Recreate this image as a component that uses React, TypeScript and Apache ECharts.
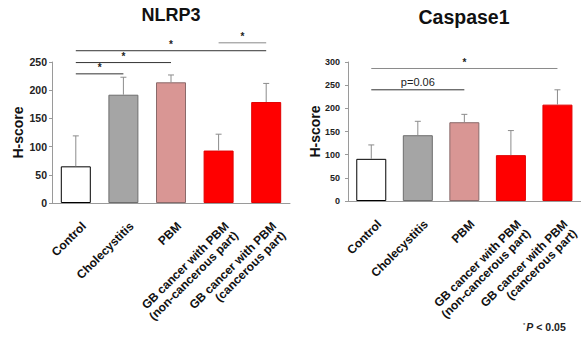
import React, { useEffect, useRef } from "react";
import * as echarts from "echarts";

const categories = [
  "Control",
  "Cholecystitis",
  "PBM",
  "GB cancer with PBM\n(non-cancerous part)",
  "GB cancer with PBM\n(cancerous part)",
];
const nlrp3Mean = [65, 192, 214, 93, 179];
const nlrp3Upper = [119, 223, 227, 122, 212];
const casp1Mean = [91, 142, 170, 99, 208];
const casp1Upper = [121, 172, 187, 152, 240];
const nlrp3Ticks = [0, 50, 100, 150, 200, 250];
const casp1Ticks = [0, 50, 100, 150, 200, 250, 300];
const nlrp3Sig = [
  { from: 0, to: 1, y: 229, label: "*", dark: true },
  { from: 0, to: 2, y: 249, label: "*", dark: true },
  { from: 0, to: 4, y: 270, label: "*", dark: true },
  { from: 3, to: 4, y: 284, label: "*", dark: false },
];
const casp1Sig = [
  { from: 0, to: 4, y: 286, label: "*", dark: false },
  { from: 0, to: 2, y: 240, label: "p=0.06", dark: true },
];
const titles = ["NLRP3", "Caspase1"];

const FONT = "'Liberation Sans', Arial, sans-serif";
const barColors = ["#ffffff", "#a5a5a5", "#d99694", "#ff0000", "#ff0000"];
const barBorders = ["#000000", "#6e6e6e", "#8a6a6a", "#e00000", "#e00000"];

export default function App() {
  const ref = useRef<HTMLDivElement>(null);
  useEffect(() => {
    const chart = echarts.init(ref.current!, null, { renderer: "svg" });

    const xAxisBase = (gridIndex: number) => ({
      type: "category",
      gridIndex,
      data: categories,
      axisLine: { lineStyle: { color: "#9a9a9a", width: 1 } },
      axisTick: { show: false },
      axisLabel: {
        rotate: 45,
        interval: 0,
        margin: 13,
        align: "right",
        verticalAlign: "top",
        padding: [5, 0, 0, 0],
        fontFamily: FONT,
        fontWeight: "bold",
        fontSize: 12,
        lineHeight: 13,
        color: "#111",
      },
    });
    const yAxisBase = (gridIndex: number, ticks: number[], fs: number, margin: number, gap: number) => ({
      type: "value",
      gridIndex,
      min: ticks[0],
      max: ticks[ticks.length - 1],
      interval: ticks[1] - ticks[0],
      name: "H-score",
      nameLocation: "middle",
      nameRotate: 90,
      nameGap: gap,
      nameMoveOverlap: false,
      nameTextStyle: { fontFamily: FONT, fontWeight: "bold", fontSize: 14, color: "#111" },
      splitLine: { show: false },
      axisLine: { show: true, lineStyle: { color: "#9a9a9a", width: 1 } },
      axisTick: { show: true, length: 3, lineStyle: { color: "#9a9a9a" } },
      axisLabel: { fontFamily: FONT, fontWeight: "bold", fontSize: fs, color: "#222", margin },
    });

    const barSeries = (idx: number, data: number[]) => ({
      type: "bar",
      xAxisIndex: idx,
      yAxisIndex: idx,
      barWidth: 30,
      data: data.map((v, i) => ({
        value: v,
        itemStyle: { color: barColors[i], borderColor: barBorders[i], borderWidth: 1 },
      })),
      z: 2,
    });
    const errSeries = (idx: number, mean: number[], upper: number[]) => ({
      type: "custom",
      xAxisIndex: idx,
      yAxisIndex: idx,
      data: mean.map((m, i) => [i, m, upper[i]]),
      z: 3,
      renderItem: (params: any, api: any) => {
        const x = api.value(0);
        const p0 = api.coord([x, api.value(1)]);
        const p1 = api.coord([x, api.value(2)]);
        const style = { stroke: "#8c8c8c", lineWidth: 1 };
        return {
          type: "group",
          children: [
            { type: "line", shape: { x1: p0[0], y1: p0[1], x2: p1[0], y2: p1[1] }, style },
            { type: "line", shape: { x1: p1[0] - 3, y1: p1[1], x2: p1[0] + 3, y2: p1[1] }, style },
          ],
        };
      },
    });

    chart.setOption({
      animation: false,
      backgroundColor: "#ffffff",
      grid: [
        { left: 52, top: 62, width: 238, height: 141 },
        { left: 348, top: 62, width: 237.5, height: 139 },
      ],
      xAxis: [xAxisBase(0), xAxisBase(1)],
      yAxis: [yAxisBase(0, nlrp3Ticks, 10.5, 5, 27), yAxisBase(1, casp1Ticks, 9, 8, 26)],
      series: [
        barSeries(0, nlrp3Mean),
        errSeries(0, nlrp3Mean, nlrp3Upper),
        barSeries(1, casp1Mean),
        errSeries(1, casp1Mean, casp1Upper),
      ],
    });

    const graphics: any[] = [];
    const addSig = (gridIndex: number, sig: typeof nlrp3Sig) => {
      sig.forEach((s) => {
        const a = chart.convertToPixel({ gridIndex } as any, [s.from, s.y]) as number[];
        const b = chart.convertToPixel({ gridIndex } as any, [s.to, s.y]) as number[];
        graphics.push({
          type: "line",
          shape: { x1: a[0], y1: a[1], x2: b[0], y2: b[1] },
          style: { stroke: s.dark ? "#333333" : "#8a8a8a", lineWidth: 1 },
        });
        const isStar = s.label === "*";
        graphics.push({
          type: "text",
          x: (a[0] + b[0]) / 2,
          y: a[1] - (isStar ? 1 : 2),
          style: {
            text: s.label,
            fill: "#222",
            font: isStar ? `bold 10px ${FONT}` : `11px ${FONT}`,
            textAlign: "center",
            textVerticalAlign: "bottom",
          },
        });
      });
    };
    addSig(0, nlrp3Sig);
    addSig(1, casp1Sig);

    const titleX = [171, 464];
    const titleY = [15, 17];
    const titleSize = [18, 19.5];
    titles.forEach((t, i) =>
      graphics.push({
        type: "text",
        x: titleX[i],
        y: titleY[i],
        style: {
          text: t,
          fill: "#111",
          font: `bold ${titleSize[i]}px ${FONT}`,
          textAlign: "center",
          textVerticalAlign: "middle",
        },
      })
    );
    graphics.push({
      type: "text",
      x: 523,
      y: 327,
      style: {
        text: "{s|*}{p|P}{n| < 0.05}",
        textVerticalAlign: "middle",
        rich: {
          s: { fontSize: 6, fontFamily: FONT, fill: "#222", verticalAlign: "top", padding: [0, 1, 4, 0] },
          p: { fontSize: 10.5, fontFamily: FONT, fontStyle: "italic", fontWeight: "bold", fill: "#222" },
          n: { fontSize: 10.5, fontFamily: FONT, fontWeight: "bold", fill: "#222" },
        },
      },
    });
    chart.setOption({ graphic: graphics });

    return () => chart.dispose();
  }, []);

  return (
    <div
      ref={ref}
      style={{ position: "fixed", left: 0, top: 0, width: 581, height: 339, background: "#fff" }}
    />
  );
}
